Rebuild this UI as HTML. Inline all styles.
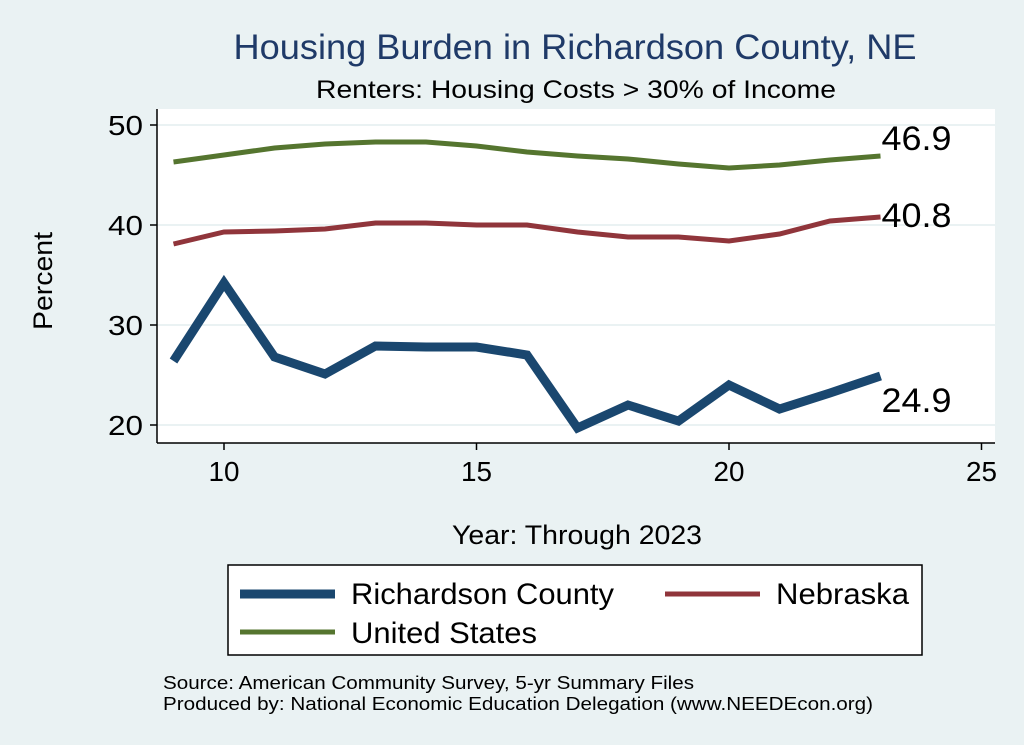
<!DOCTYPE html>
<html><head><meta charset="utf-8"><style>
body{margin:0;background:#eaf2f3;}
svg{display:block;font-family:"Liberation Sans",sans-serif;}
</style></head><body>
<svg id="chart" width="1024" height="745" viewBox="0 0 1024 745">
<rect x="0" y="0" width="1024" height="745" fill="#eaf2f3"/>
<text x="575" y="59" text-anchor="middle" font-size="35" textLength="683" lengthAdjust="spacingAndGlyphs" fill="#1f3a68">Housing Burden in Richardson County, NE</text>
<text x="576" y="98" text-anchor="middle" font-size="25" textLength="520" lengthAdjust="spacingAndGlyphs" fill="#000">Renters: Housing Costs &gt; 30% of Income</text>
<rect x="157" y="109" width="838" height="334" fill="#fff"/>
<g id="grid"></g>
<g id="axes"></g>
<g id="series"></g>
<text x="52" y="281" text-anchor="middle" font-size="27" textLength="98" lengthAdjust="spacingAndGlyphs" transform="rotate(-90 52 281)">Percent</text>
<text x="577" y="544" text-anchor="middle" font-size="27" textLength="250" lengthAdjust="spacingAndGlyphs">Year: Through 2023</text>
<g>
<rect x="228" y="565" width="694" height="90" fill="#fff" stroke="#000" stroke-width="1.5"/>
<line x1="240" y1="594" x2="335" y2="594" stroke="#1a476f" stroke-width="9"/>
<text x="351" y="604" font-size="30" textLength="263" lengthAdjust="spacingAndGlyphs">Richardson County</text>
<line x1="665" y1="594" x2="760" y2="594" stroke="#90353b" stroke-width="5"/>
<text x="776" y="604" font-size="30" textLength="133" lengthAdjust="spacingAndGlyphs">Nebraska</text>
<line x1="240" y1="632" x2="335" y2="632" stroke="#55752f" stroke-width="5"/>
<text x="351" y="643" font-size="30" textLength="186" lengthAdjust="spacingAndGlyphs">United States</text>
</g>
<text x="163" y="689" font-size="18" textLength="531" lengthAdjust="spacingAndGlyphs">Source: American Community Survey, 5-yr Summary Files</text>
<text x="163" y="710" font-size="18" textLength="710" lengthAdjust="spacingAndGlyphs">Produced by: National Economic Education Delegation (www.NEEDEcon.org)</text>
</svg>
<script>
const years = [9,10,11,12,13,14,15,16,17,18,19,20,21,22,23];
const richardson = [26.4,34.2,26.8,25.1,27.9,27.8,27.8,27.0,19.7,22.0,20.4,24.0,21.6,23.2,24.9];
const nebraska = [38.1,39.3,39.4,39.6,40.2,40.2,40.0,40.0,39.3,38.8,38.8,38.4,39.1,40.4,40.8];
const unitedStates = [46.3,47.0,47.7,48.1,48.3,48.3,47.9,47.3,46.9,46.6,46.1,45.7,46.0,46.5,46.9];
const xTicks = [10,15,20,25];
const yTicks = [20,30,40,50];
const NS='http://www.w3.org/2000/svg';
function xs(v){return 224+(v-10)*50.5;}
function ys(v){return 425-(v-20)*10;}
function mk(tag,attrs,parent){const e=document.createElementNS(NS,tag);for(const k in attrs)e.setAttribute(k,attrs[k]);parent.appendChild(e);return e;}
const grid=document.getElementById('grid'),axes=document.getElementById('axes'),ser=document.getElementById('series');
yTicks.forEach(t=>{
 const g=mk('line',{x1:157,x2:995,y1:ys(t),y2:ys(t),stroke:'#eaf2f3','stroke-width':2},grid);
 
 
 const tk=mk('line',{x1:150,x2:157,y1:ys(t),y2:ys(t),stroke:'#000','stroke-width':1.5},axes);
 
 
 const l=mk('text',{x:143,y:ys(t)+10,'text-anchor':'end','font-size':28,textLength:35,lengthAdjust:'spacingAndGlyphs'},axes);
 l.textContent=t;
 
 
});
xTicks.forEach(t=>{
 const tk=mk('line',{x1:xs(t),x2:xs(t),y1:443,y2:450,stroke:'#000','stroke-width':1.5},axes);
 
 
 const l=mk('text',{x:xs(t),y:481,'text-anchor':'middle','font-size':28,textLength:31,lengthAdjust:'spacingAndGlyphs'},axes);
 l.textContent=t;
 
 
});
const ya=mk('line',{x1:157,x2:157,y1:109,y2:443,stroke:'#000','stroke-width':1.5},axes);


const xa=mk('line',{x1:157,x2:995,y1:443,y2:443,stroke:'#000','stroke-width':1.5},axes);


function drawLine(vals,color,w,name,labDy){
 const pts=vals.map((v,i)=>xs(years[i])+','+ys(v)).join(' ');
 const p=mk('polyline',{points:pts,fill:'none',stroke:color,'stroke-width':w,'stroke-linejoin':'miter'},ser);
 
 
 const last=vals[vals.length-1];
 const t=mk('text',{x:xs(years[years.length-1])+1,y:ys(last)+labDy,'font-size':34,textLength:70,lengthAdjust:'spacingAndGlyphs'},ser);
 t.textContent=last.toFixed(1);
 
 
}
drawLine(unitedStates,'#55752f',5,'united-states',-6);
drawLine(nebraska,'#90353b',5,'nebraska',10);
drawLine(richardson,'#1a476f',9,'richardson-county',36);
</script>
</body></html>
